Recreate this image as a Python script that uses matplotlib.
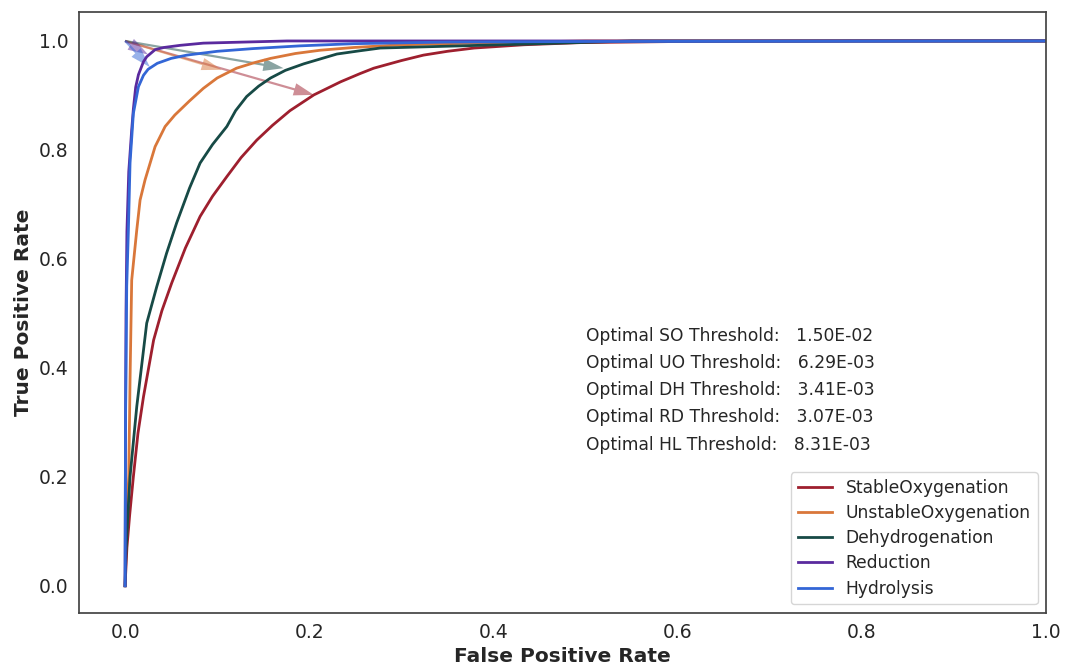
import matplotlib
matplotlib.use("Agg")
import matplotlib.pyplot as plt
from matplotlib.patches import FancyArrowPatch

# ROC curves (false positive rate, true positive rate)
so_fpr = [0, 0.002, 0.005, 0.009, 0.014, 0.020, 0.031, 0.040, 0.0507, 0.0655, 0.0815, 0.095,
          0.1105, 0.126, 0.143, 0.16, 0.179, 0.205, 0.234, 0.255, 0.27, 0.30, 0.324, 0.35,
          0.379, 0.433, 0.495, 0.6, 0.8, 1.0]
so_tpr = [0, 0.07, 0.13, 0.2, 0.28, 0.347, 0.451, 0.505, 0.556, 0.62, 0.678, 0.715,
          0.751, 0.786, 0.818, 0.845, 0.872, 0.901, 0.925, 0.94, 0.950, 0.964, 0.974, 0.981,
          0.987, 0.993, 0.997, 0.999, 1.0, 1.0]

uo_fpr = [0, 0.001, 0.004, 0.0054, 0.0072, 0.0127, 0.0163, 0.0217, 0.0326, 0.0435, 0.054,
          0.07, 0.085, 0.1, 0.121, 0.14, 0.158, 0.185, 0.212, 0.248, 0.30, 0.40, 0.5, 1.0]
uo_tpr = [0, 0.1, 0.2, 0.378, 0.561, 0.653, 0.708, 0.745, 0.806, 0.843, 0.864,
          0.89, 0.913, 0.932, 0.950, 0.960, 0.968, 0.977, 0.983, 0.988, 0.993, 0.997, 1.0, 1.0]

dh_fpr = [0, 0.001, 0.003, 0.0054, 0.0127, 0.0235, 0.0344, 0.045, 0.056, 0.07, 0.0815,
          0.095, 0.1105, 0.12, 0.132, 0.145, 0.158, 0.174, 0.194, 0.212, 0.230, 0.255,
          0.277, 0.342, 0.451, 0.55, 1.0]
dh_tpr = [0, 0.06, 0.13, 0.2, 0.329, 0.482, 0.549, 0.61, 0.666, 0.73, 0.776,
          0.81, 0.843, 0.872, 0.898, 0.917, 0.932, 0.946, 0.958, 0.967, 0.976, 0.982,
          0.987, 0.99, 0.995, 1.0, 1.0]

rd_fpr = [0, 0.0005, 0.001, 0.002, 0.004, 0.0072, 0.009, 0.0115, 0.0145, 0.02, 0.0235,
          0.0326, 0.042, 0.06, 0.085, 0.13, 0.176, 0.3, 1.0]
rd_tpr = [0, 0.3, 0.5, 0.65, 0.76, 0.837, 0.875, 0.915, 0.938, 0.962, 0.971,
          0.984, 0.988, 0.992, 0.996, 0.998, 1.0, 1.0, 1.0]

hl_fpr = [0, 0.0005, 0.0018, 0.0036, 0.0054, 0.009, 0.0145, 0.02, 0.025, 0.035, 0.05,
          0.067, 0.1, 0.139, 0.19, 0.248, 0.35, 0.5, 1.0]
hl_tpr = [0, 0.3, 0.55, 0.653, 0.776, 0.867, 0.916, 0.937, 0.948, 0.959, 0.968,
          0.974, 0.981, 0.986, 0.991, 0.995, 0.998, 0.999, 1.0]

labels = ["StableOxygenation", "UnstableOxygenation", "Dehydrogenation", "Reduction", "Hydrolysis"]
short = ["SO", "UO", "DH", "RD", "HL"]
thresholds = ["1.50E-02", "6.29E-03", "3.41E-03", "3.07E-03", "8.31E-03"]
# optimal operating points (arrow targets)
opt_fpr = [0.205, 0.105, 0.172, 0.025, 0.027]
opt_tpr = [0.901, 0.947, 0.950, 0.975, 0.952]

colors = ["#9e1f2e", "#d9773a", "#174a46", "#5a2a9e", "#3366d6"]
curves = [(so_fpr, so_tpr), (uo_fpr, uo_tpr), (dh_fpr, dh_tpr), (rd_fpr, rd_tpr), (hl_fpr, hl_tpr)]

txt = "#262626"
plt.rcParams["font.family"] = "DejaVu Sans"

fig = plt.figure(figsize=(10.65, 6.64), dpi=100)
ax = fig.add_axes([0.0742, 0.0768, 0.908, 0.905])

for (fx, ty), lab, c in zip(curves, labels, colors):
    ax.plot(fx, ty, color=c, lw=2, label=lab)

# arrows from (0, 1) to each optimal point
for x, y, c in zip(opt_fpr, opt_tpr, colors):
    arr = FancyArrowPatch((0, 1), (x, y),
                          arrowstyle="simple,head_length=1.45,head_width=0.9,tail_width=0.16",
                          mutation_scale=10, color=c, alpha=0.5, lw=0,
                          shrinkA=0, shrinkB=0)
    ax.add_patch(arr)

for i, (s, t) in enumerate(zip(short, thresholds)):
    ax.text(0.5, 0.45 - 0.05 * i, f"Optimal {s} Threshold:   {t}",
            fontsize=12.3, color=txt)

ax.set_xlim(-0.05, 1.0)
ax.set_ylim(-0.05, 1.053)
ax.set_xticks([0, 0.2, 0.4, 0.6, 0.8, 1.0])
ax.set_yticks([0, 0.2, 0.4, 0.6, 0.8, 1.0])
ax.tick_params(length=0, labelsize=13.5, labelcolor=txt, pad=7.5)

ax.set_xlabel("False Positive Rate", fontsize=14.5, fontweight="bold", color=txt, labelpad=3)
ax.set_ylabel("True Positive Rate", fontsize=14.5, fontweight="bold", color=txt, labelpad=4)

for sp in ax.spines.values():
    sp.set_color("#444444")
    sp.set_linewidth(1.25)

leg = ax.legend(loc="lower right", fontsize=12.3, frameon=True, fancybox=True,
                labelspacing=0.42)
leg.get_frame().set_edgecolor("#cccccc")
for t in leg.get_texts():
    t.set_color(txt)

fig.savefig("out.png", dpi=100)
